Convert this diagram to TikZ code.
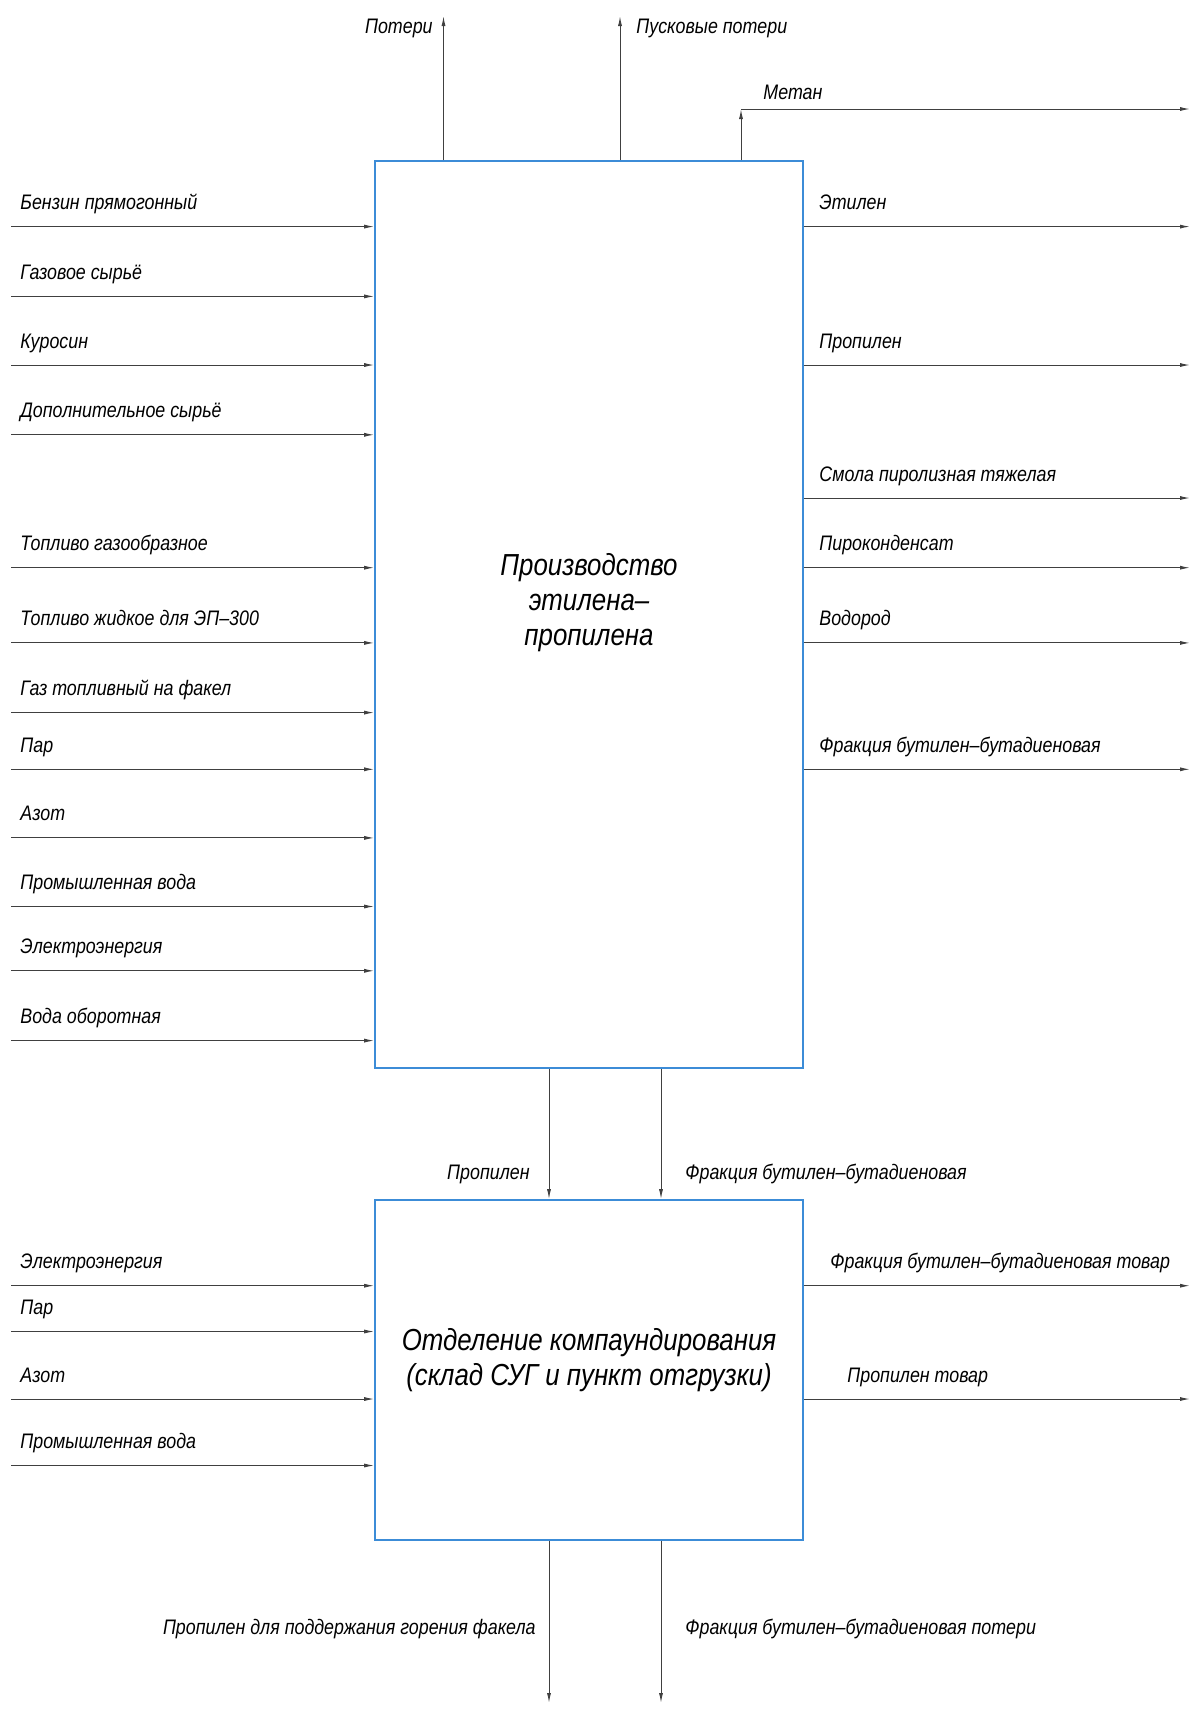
\documentclass[tikz,border=0pt]{standalone}
\usepackage{fontspec}
\setmainfont{Liberation Sans}[FakeStretch=0.85]
\usepackage{tikz}
\usetikzlibrary{positioning}
\usetikzlibrary{calc}
\usetikzlibrary{arrows.meta}
\definecolor{boxblue}{RGB}{60,140,215}
\tikzset{
  blok/.style={draw=boxblue, line width=0.8pt, minimum width=214pt, inner sep=0pt},
  bloktext/.style={align=center, inner sep=0pt, font=\itshape\fontsize{15.2}{17.5}\selectfont},
  flow/.style={draw=black!75, line width=0.5pt, -{Latex[length=5pt,width=2pt]}},
  lbl/.style={font=\itshape\fontsize{10.5}{12}\selectfont, inner sep=0pt}
}

\begin{document}
\begin{tikzpicture}[x=0.5pt, y=-0.5pt]
    \useasboundingbox (0,0) rectangle (1192,1709);

    \node[blok, minimum height=453.5pt] (prod) at (589,614.5) {};
    \node[blok, minimum height=170pt] (komp) at (589,1370) {};
    \node[bloktext] (prodt) at ($(prod.center)+(0,-12)$) {Производство\\этилена–\\пропилена};
    \node[bloktext] (kompt) at ($(komp.center)+(0,-10)$) {Отделение компаундирования\\(склад СУГ и пункт отгрузки)};

    % входы производства
    \foreach \y/\t [count=\i] in {226.6/Бензин прямогонный, 296.4/Газовое сырьё, 365/Куросин,
        434.8/Дополнительное сырьё, 567.7/Топливо газообразное, 642.9/Топливо жидкое для ЭП–300,
        712.6/Газ топливный на факел, 769.3/Пар, 837.9/Азот, 906.5/Промышленная вода,
        970.8/Электроэнергия, 1040.6/Вода оборотная}{
        \coordinate (pin\i) at (11,\y);
        \draw[flow] (pin\i) -- (pin\i -| prod.west);
        \node[lbl, anchor=base west] (pinl\i) at (20,\y-17) {\t};
    }

    % выходы производства
    \foreach \y/\t [count=\i] in {226.6/Этилен, 365/Пропилен, 498/Смола пиролизная тяжелая,
        567.7/Пироконденсат, 642.9/Водород, 769.3/Фракция бутилен–бутадиеновая}{
        \coordinate (pout\i) at (1190,\y);
        \draw[flow] (pout\i -| prod.east) -- (pout\i);
        \node[lbl, anchor=base west] (poutl\i) at (819,\y-17) {\t};
    }

    \coordinate (pot) at (443.5,16);
    \coordinate (pusk) at (620,16);
    \coordinate (met) at (741,109);
    \coordinate (metend) at (1190,109);
    \draw[flow] (pot |- prod.north) -- (pot);
    \draw[flow] (pusk |- prod.north) -- (pusk);
    \draw[flow] (met |- prod.north) -- (met);
    \draw[flow] (met) -- (metend);
    \node[lbl, anchor=base east] (potl) at (433,33) {Потери};
    \node[lbl, anchor=base west] (puskl) at (636,33) {Пусковые потери};
    \node[lbl, anchor=base west] (metl) at (763,99) {Метан};

    % связь между блоками
    \coordinate (c1) at (549,0);
    \coordinate (c2) at (661,0);
    \draw[flow] (c1 |- prod.south) -- (c1 |- komp.north);
    \draw[flow] (c2 |- prod.south) -- (c2 |- komp.north);
    \node[lbl, anchor=base east] (c1l) at (530,1179) {Пропилен};
    \node[lbl, anchor=base west] (c2l) at (685,1179) {Фракция бутилен–бутадиеновая};

    % входы компаундирования
    \foreach \y/\t [count=\i] in {1285.7/Электроэнергия, 1331.5/Пар, 1399/Азот, 1465.5/Промышленная вода}{
        \coordinate (kin\i) at (11,\y);
        \draw[flow] (kin\i) -- (kin\i -| komp.west);
        \node[lbl, anchor=base west] (kinl\i) at (20,\y-17) {\t};
    }

    % выходы компаундирования
    \coordinate (kout1) at (1190,1285.7);
    \coordinate (kout2) at (1190,1399);
    \draw[flow] (kout1 -| komp.east) -- (kout1);
    \draw[flow] (kout2 -| komp.east) -- (kout2);
    \node[lbl, anchor=base west] (koutl1) at (830,1268.7) {Фракция бутилен–бутадиеновая товар};
    \node[lbl, anchor=base west] (koutl2) at (847,1382) {Пропилен товар};

    \coordinate (d1) at (549,1703);
    \coordinate (d2) at (661,1703);
    \draw[flow] (d1 |- komp.south) -- (d1);
    \draw[flow] (d2 |- komp.south) -- (d2);
    \node[lbl, anchor=base east] (d1l) at (536,1634) {Пропилен для поддержания горения факела};
    \node[lbl, anchor=base west] (d2l) at (685,1634) {Фракция бутилен–бутадиеновая потери};
\end{tikzpicture}
\end{document}
